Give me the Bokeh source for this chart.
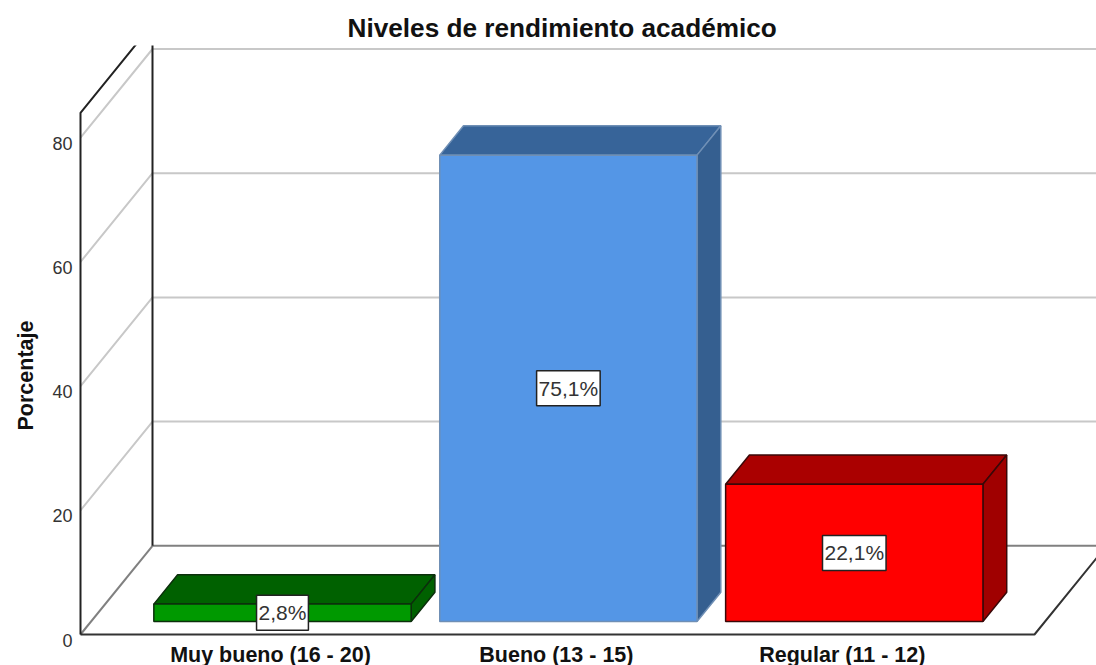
from bokeh.core.properties import value
from bokeh.embed import file_html
from bokeh.models import FixedTicker, LinearAxis, Range1d, Title
from bokeh.plotting import figure
from bokeh.resources import INLINE

TITLE = "Niveles de rendimiento académico"
Y_LABEL = "Porcentaje"
categories = ["Muy bueno (16 - 20)", "Bueno (13 - 15)", "Regular (11 - 12)"]
percent = [2.8, 75.1, 22.1]
percent_labels = ["2,8%", "75,1%", "22,1%"]
y_ticks = [0, 20, 40, 60, 80]
front_colors = ["#009900", "#5496e6", "#ff0000"]
top_colors = ["#006100", "#376499", "#aa0000"]
side_colors = ["#006100", "#355f90", "#a00000"]
edge_colors = ["#0c2f0c", "#6f8fb5", "#3a0808"]

FONT = "Liberation Sans"
UNIT_X = 285.9
UNIT_Y = 6.21
W, H = 1096, 669
FRAME_LEFT, TOP = 78, 45
WALL_X_PX = 80
FRAME_BOTTOM_PX = 640
X0_PX = 270
Y0_PX = 634
TICK_LABEL_DROP_PX = 5.5

DX = 72 / UNIT_X
DY = 88.7 / UNIT_Y
AXIS_TOP = 84
FLOOR_RIGHT = (1034 - X0_PX) / UNIT_X
BAR_HALF = 0.45
BAR_SHIFT = 0.005
D_FRONT = 13 / 88.7
D_BACK = 42.3 / 88.7


def pr(x, y, d=0.0):
    return x + d * DX, y + d * DY


def poly(points):
    pts = [pr(*q) for q in points]
    return [q[0] for q in pts], [q[1] for q in pts]


x_wall = (WALL_X_PX - X0_PX) / UNIT_X
x_start = (FRAME_LEFT - X0_PX) / UNIT_X
x_end = (W - X0_PX) / UNIT_X
y_start = (Y0_PX - FRAME_BOTTOM_PX) / UNIT_Y
y_end = (Y0_PX - TOP) / UNIT_Y
drop = TICK_LABEL_DROP_PX / UNIT_Y

p = figure(
    width=W, height=H, output_backend="svg", toolbar_location=None,
    x_range=(x_start, x_end), y_range=(y_start, y_end),
    y_axis_location=None,
    min_border_left=FRAME_LEFT, min_border_right=0, min_border_top=TOP, min_border_bottom=0,
    outline_line_color=None, background_fill_color="white", border_fill_color="white",
)
p.styles = {"position": "absolute", "left": "0px", "top": "0px"}
p.grid.visible = False

p.title = Title(text=TITLE, align="left", offset=269, text_font=FONT, text_font_size="26.2px",
                text_font_style="bold", text_color="#111111", standoff=5)

p.extra_y_ranges = {"labels": Range1d(y_start + drop, y_end + drop)}
ya = LinearAxis(y_range_name="labels", ticker=FixedTicker(ticks=y_ticks))
ya.axis_line_color = None
ya.major_tick_line_color = None
ya.minor_tick_line_color = None
ya.major_label_standoff = 0
ya.major_label_text_font = FONT
ya.major_label_text_font_size = "18px"
ya.major_label_text_color = "#333333"
p.add_layout(ya, "left")

p.add_layout(Title(text=Y_LABEL, align="left", vertical_align="top", offset=210, standoff=20,
                   text_font=FONT, text_font_size="21.5px", text_font_style="bold",
                   text_color="#111111"), "left")

xa = p.xaxis[0]
xa.ticker = FixedTicker(ticks=[0, 1, 2])
xa.major_label_overrides = {i: c for i, c in enumerate(categories)}
xa.axis_line_color = None
xa.major_tick_line_color = None
xa.minor_tick_line_color = None
xa.major_label_standoff = -4
xa.major_label_text_font = FONT
xa.major_label_text_font_size = "21.5px"
xa.major_label_text_font_style = "bold"
xa.major_label_text_color = "#111111"

for t in y_ticks[1:]:
    xs, ys = poly([(x_wall, t, 0), (x_wall, t, 1), (x_end, t, 1)])
    p.line(xs, ys, line_color="#c8c8c8", line_width=2)

xs, ys = poly([(x_wall, 0, 1), (x_end, 0, 1)])
p.line(xs, ys, line_color="#808080", line_width=2)
xs, ys = poly([(x_wall, 0, 0), (x_wall, 0, 1)])
p.line(xs, ys, line_color="#808080", line_width=2)
xs, ys = poly([(x_wall, 0, 0), (FLOOR_RIGHT, 0, 0), (FLOOR_RIGHT, 0, 1.2)])
p.line(xs, ys, line_color="#333333", line_width=2)

xs, ys = poly([(x_wall, 0, 1), (x_wall, 100, 1)])
p.line(xs, ys, line_color="#222222", line_width=2)
xs, ys = poly([(x_wall, 0, 0), (x_wall, AXIS_TOP, 0), (x_wall, AXIS_TOP, 1)])
p.line(xs, ys, line_color="#222222", line_width=2)

for i, v in enumerate(percent):
    x0 = i + BAR_SHIFT - BAR_HALF
    x1 = i + BAR_SHIFT + BAR_HALF
    lc = edge_colors[i]
    xs, ys = poly([(x0, v, D_FRONT), (x1, v, D_FRONT), (x1, v, D_BACK), (x0, v, D_BACK)])
    p.patch(xs, ys, fill_color=top_colors[i], line_color=lc, line_width=1.5)
    xs, ys = poly([(x1, 0, D_FRONT), (x1, v, D_FRONT), (x1, v, D_BACK), (x1, 0, D_BACK)])
    p.patch(xs, ys, fill_color=side_colors[i], line_color=lc, line_width=1.5)
    xs, ys = poly([(x0, 0, D_FRONT), (x1, 0, D_FRONT), (x1, v, D_FRONT), (x0, v, D_FRONT)])
    p.patch(xs, ys, fill_color=front_colors[i], line_color=lc, line_width=1.5)

lx, ly = [], []
for i, v in enumerate(percent):
    a, b = pr(i + BAR_SHIFT, v / 2, D_FRONT)
    lx.append(a)
    ly.append(b)
p.text(lx, ly, text=percent_labels, text_align="center", text_baseline="middle",
       text_font=value(FONT), text_font_size="21px", text_color="#333333",
       background_fill_color="white", border_line_color="#222222", border_line_width=1.5,
       padding=(2, 6))

open("out.html", "w").write(file_html(p, INLINE))
